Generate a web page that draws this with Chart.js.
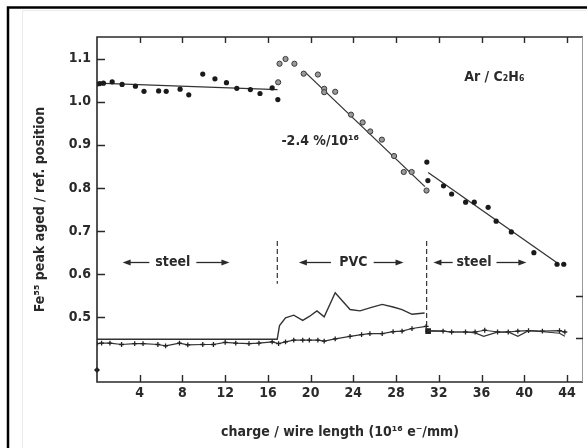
<!DOCTYPE html>
<html><head><meta charset="utf-8">
<script src="https://cdn.jsdelivr.net/npm/chart.js@4/dist/chart.umd.min.js"></script>
<style>html,body{margin:0;padding:0;background:#fff;}#wrap{width:587px;height:448px;}</style>
</head><body><div id="wrap"><canvas id="c" width="587" height="448"></canvas></div>
<script>
// ---- data ----
const xTickValues = [4, 8, 12, 16, 20, 24, 28, 32, 36, 40, 44];
const yTickValues = [0.5, 0.6, 0.7, 0.8, 0.9, 1.0, 1.1];

// Fe55 peak position, steel section 1 (filled dots)
const steel1X = [0, 0.25, 0.6, 1.42, 2.35, 3.6, 4.4, 5.77, 6.48, 7.78, 8.59, 9.9, 11.04, 12.12, 13.09, 14.36, 15.26, 16.4, 16.93];
const steel1Y = [1.041, 1.042, 1.043, 1.046, 1.040, 1.036, 1.024, 1.025, 1.024, 1.029, 1.016, 1.064, 1.053, 1.044, 1.031, 1.028, 1.019, 1.032, 1.005];
// PVC section (open circles)
const pvcX = [16.96, 17.09, 17.65, 18.48, 19.35, 20.68, 21.27, 21.27, 22.3, 23.78, 24.87, 25.58, 26.67, 27.81, 28.72, 29.46, 30.85];
const pvcY = [1.045, 1.088, 1.099, 1.088, 1.065, 1.063, 1.030, 1.022, 1.023, 0.970, 0.952, 0.931, 0.912, 0.874, 0.837, 0.837, 0.794];
// steel section 2 (filled dots)
const steel2X = [30.88, 30.98, 32.44, 33.2, 34.51, 35.32, 36.62, 37.37, 38.79, 40.9, 43.07, 43.7];
const steel2Y = [0.860, 0.817, 0.805, 0.786, 0.767, 0.767, 0.755, 0.723, 0.698, 0.650, 0.623, 0.623];

// fitted straight lines
const fit1X = [0, 16.9],   fit1Y = [1.043, 1.028];
const fit2X = [19.5, 30.7], fit2Y = [1.068, 0.803];
const fit3X = [31.0, 43.1], fit3Y = [0.836, 0.626];

// lower curves (second quantity)
const upperAX = [0, 16.87, 17.09, 17.65, 18.42, 19.26, 19.88, 20.59, 21.27, 22.3, 23.69, 24.62, 25.7, 26.7, 27.72, 28.56, 29.49, 30.67];
const upperAY = [0.449, 0.449, 0.481, 0.499, 0.505, 0.493, 0.502, 0.515, 0.501, 0.557, 0.518, 0.515, 0.523, 0.530, 0.524, 0.518, 0.507, 0.510];
const upperBX = [31.0, 32.4, 33.2, 34.5, 35.4, 36.2, 37.4, 38.5, 39.4, 40.4, 42.0, 43.3, 43.8];
const upperBY = [0.469, 0.468, 0.466, 0.466, 0.464, 0.456, 0.465, 0.466, 0.456, 0.469, 0.466, 0.463, 0.456];
const markedAX = [0, 0.43, 1.21, 2.3, 3.53, 4.31, 5.7, 6.42, 7.72, 8.5, 9.9, 10.9, 12.0, 12.99, 14.23, 15.16, 16.4, 17.0, 17.65, 18.42, 19.26, 19.88, 20.68, 21.27, 22.3, 23.69, 24.77, 25.55, 26.7, 27.72, 28.56, 29.49, 30.82];
const markedAY = [0.439, 0.440, 0.440, 0.437, 0.439, 0.439, 0.437, 0.434, 0.440, 0.436, 0.437, 0.437, 0.442, 0.440, 0.439, 0.440, 0.443, 0.439, 0.443, 0.447, 0.447, 0.447, 0.447, 0.445, 0.450, 0.456, 0.460, 0.462, 0.462, 0.467, 0.468, 0.474, 0.479];
const markedBX = [30.95, 32.4, 33.2, 34.5, 35.4, 36.3, 37.5, 38.5, 39.4, 40.4, 41.7, 43.3, 43.8];
const markedBY = [0.468, 0.468, 0.466, 0.466, 0.466, 0.470, 0.466, 0.466, 0.468, 0.469, 0.468, 0.469, 0.466];
const loneX = [0], loneY = [0.378];
const squareX = [31.0], squareY = [0.468];

// section boundaries (dashed)
const bound1X = [16.88, 16.88], bound1Y = [0.677, 0.578];
const bound2X = [30.86, 30.86], bound2Y = [0.677, 0.48];

const xTitle = 'charge / wire length (10¹⁶ e⁻/mm)';
const yTitle = 'Fe⁵⁵ peak aged / ref. position';

// labels: [text, x, y]
const labelSteel1 = ['steel', 7.1, 0.628];
const labelPVC = ['PVC', 24.0, 0.628];
const labelSteel2 = ['steel', 35.3, 0.628];
const labelGas = ['Ar / C₂H₆', 37.2, 1.056];
const labelSlope = ['-2.4 %/10¹⁶', 20.9, 0.907];
// arrows: [headX, tailX, y]
const arrows = [[2.4, 4.9, 0.628], [12.4, 9.3, 0.628], [18.9, 21.9, 0.628], [28.7, 25.9, 0.628], [31.5, 33.3, 0.628], [40.2, 37.4, 0.628]];

// ---- build ----
const FONT = 'DejaVu Sans Condensed';
const WEIGHT = 'bold';
const INK = '#2a2a2a';
const zip = (xs, ys) => xs.map((x, i) => ({x, y: ys[i]}));

function pts(xs, ys, extra) {
  return Object.assign({data: zip(xs, ys), showLine: false, pointRadius: 2.6, pointHoverRadius: 2.6,
    backgroundColor: '#1a1a1a', borderColor: '#1a1a1a', borderWidth: 0}, extra || {});
}
function line(xs, ys, extra) {
  return Object.assign({data: zip(xs, ys), showLine: true, pointRadius: 0, pointHoverRadius: 0,
    borderColor: '#333', borderWidth: 1.3, tension: 0, fill: false}, extra || {});
}

const datasets = [
  pts(steel1X, steel1Y),
  pts(pvcX, pvcY, {backgroundColor: '#9a9a9a', borderColor: '#3a3a3a', borderWidth: 1}),
  pts(steel2X, steel2Y),
  line(fit1X, fit1Y),
  line(fit2X, fit2Y),
  line(fit3X, fit3Y),
  line(upperAX, upperAY, {borderWidth: 1.4}),
  line(upperBX, upperBY, {borderWidth: 1.2}),
  line(markedAX, markedAY, {pointRadius: 2.4, pointStyle: 'cross', pointBorderColor: '#222', pointBorderWidth: 1.3, borderWidth: 1.2}),
  line(markedBX, markedBY, {pointRadius: 2.4, pointStyle: 'cross', pointBorderColor: '#222', pointBorderWidth: 1.3, borderWidth: 1.2}),
  pts(loneX, loneY, {pointStyle: 'rectRot', pointRadius: 3, clip: false}),
  pts(squareX, squareY, {pointStyle: 'rect', pointRadius: 4}),
  line(bound1X, bound1Y, {borderDash: [5, 3], borderWidth: 1.2}),
  line(bound2X, bound2Y, {borderDash: [5, 3], borderWidth: 1.2})
];

const decor = {
  id: 'decor',
  beforeDraw(chart) {
    const c = chart.ctx;
    c.save(); c.fillStyle = '#fff'; c.fillRect(0, 0, chart.width, chart.height); c.restore();
  },
  afterDraw(chart) {
    const c = chart.ctx, a = chart.chartArea, sx = chart.scales.x, sy = chart.scales.y;
    c.save();
    // plot frame
    c.strokeStyle = '#2a2a2a'; c.lineWidth = 1.6;
    c.beginPath();
    c.moveTo(a.right, a.top); c.lineTo(a.left, a.top); c.lineTo(a.left, a.bottom); c.lineTo(a.right, a.bottom);
    c.stroke();
    c.strokeStyle = '#999'; c.lineWidth = 1;
    c.beginPath(); c.moveTo(a.right - 0.5, a.top); c.lineTo(a.right - 0.5, a.bottom); c.stroke();
    // inward ticks
    c.strokeStyle = '#2a2a2a'; c.lineWidth = 1.4;
    c.beginPath();
    xTickValues.forEach(v => {
      const px = Math.round(sx.getPixelForValue(v)) + 0.5;
      c.moveTo(px, a.bottom); c.lineTo(px, a.bottom - 7);
      c.moveTo(px, a.top); c.lineTo(px, a.top + 6);
    });
    yTickValues.forEach(v => {
      const py = Math.round(sy.getPixelForValue(v)) + 0.5;
      c.moveTo(a.left, py); c.lineTo(a.left + 8, py);
    });
    [0.549, 0.453].forEach(v => {
      const py = Math.round(sy.getPixelForValue(v)) + 0.5;
      c.moveTo(a.right, py); c.lineTo(a.right - 7, py);
    });
    c.stroke();
    // texts
    c.fillStyle = INK; c.textAlign = 'center'; c.textBaseline = 'middle';
    c.font = WEIGHT + ' 14px "' + FONT + '"';
    [labelSteel1, labelPVC, labelSteel2, labelGas, labelSlope].forEach(l => {
      c.fillText(l[0], sx.getPixelForValue(l[1]), sy.getPixelForValue(l[2]));
    });
    // arrows
    c.strokeStyle = '#2a2a2a'; c.fillStyle = '#2a2a2a'; c.lineWidth = 1.3;
    arrows.forEach(ar => {
      const hx = sx.getPixelForValue(ar[0]), tx = sx.getPixelForValue(ar[1]), py = Math.round(sy.getPixelForValue(ar[2])) + 0.5;
      const d = hx > tx ? 1 : -1;
      c.beginPath(); c.moveTo(tx, py); c.lineTo(hx - d * 6, py); c.stroke();
      c.beginPath(); c.moveTo(hx, py); c.lineTo(hx - d * 8, py - 3); c.lineTo(hx - d * 8, py + 3); c.closePath(); c.fill();
    });
    // scan border
    c.strokeStyle = '#ececec'; c.lineWidth = 1;
    c.beginPath(); c.moveTo(22.5, 10); c.lineTo(22.5, chart.height); c.moveTo(22, 10.5); c.lineTo(chart.width, 10.5); c.stroke();
    c.strokeStyle = '#000'; c.lineWidth = 2.5;
    c.beginPath(); c.moveTo(8, chart.height); c.lineTo(8, 7.5); c.lineTo(chart.width, 7.5); c.stroke();
    c.restore();
  }
};

const tickFont = {family: FONT, size: 14, weight: WEIGHT};
new Chart(document.getElementById('c').getContext('2d'), {
  type: 'scatter',
  data: {datasets},
  options: {
    responsive: false, animation: false, devicePixelRatio: 1,
    layout: {padding: {left: 0, right: 2, top: 37, bottom: 0}},
    plugins: {legend: {display: false}, tooltip: {enabled: false}},
    scales: {
      x: {
        type: 'linear', min: 0, max: 45.5,
        afterBuildTicks: s => { s.ticks = xTickValues.map(v => ({value: v})); },
        afterFit: s => { s.height = 66; },
        grid: {display: false, drawTicks: false}, border: {display: false},
        ticks: {font: tickFont, color: INK, padding: 3, maxRotation: 0, autoSkip: false},
        title: {display: true, text: xTitle, font: tickFont, color: INK, padding: {top: 0, bottom: 7}}
      },
      y: {
        type: 'linear', min: 0.35, max: 1.15,
        afterBuildTicks: s => { s.ticks = yTickValues.map(v => ({value: v})); },
        afterFit: s => { s.width = 97; },
        grid: {display: false, drawTicks: false}, border: {display: false},
        ticks: {font: tickFont, color: INK, padding: 6, autoSkip: false, callback: v => Number(v).toFixed(1)},
        title: {display: true, text: yTitle, font: tickFont, color: INK, padding: {top: 32, bottom: 0}}
      }
    }
  },
  plugins: [decor]
});
</script></body></html>
